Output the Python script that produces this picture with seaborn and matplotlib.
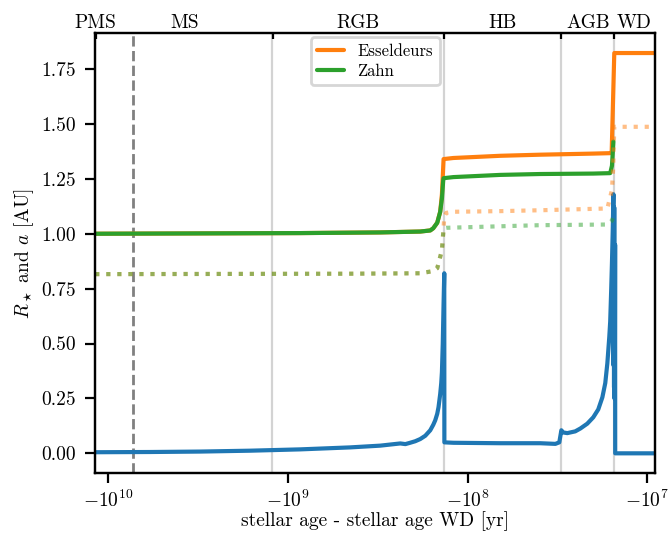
import numpy as np
import pandas as pd
import matplotlib
matplotlib.use("Agg")
import matplotlib.pyplot as plt
import matplotlib.ticker as mticker
import seaborn as sns

#---DATA---
# time relative to WD formation [yr] and stellar radius [AU]
t_star = [-1.18e10, -5.84e9, -3.08e9, -1.62e9, -8.54e8, -4.50e8, -3.06e8, -2.37e8,
          -2.22e8, -2.09e8, -1.957e8, -1.835e8, -1.72e8, -1.614e8, -1.553e8, -1.515e8,
          -1.476e8, -1.452e8, -1.421e8, -1.402e8, -1.39e8, -1.375e8, -1.361e8, -1.349e8,
          -1.347e8, -1.20e8, -6.58e7, -3.945e7, -3.25e7, -3.09e7, -3.01e7, -2.94e7,
          -2.79e7, -2.52e7, -2.36e7, -2.16e7, -2.00e7, -1.876e7, -1.78e7, -1.715e7,
          -1.67e7, -1.629e7, -1.61e7, -1.589e7, -1.574e7, -1.558e7, -1.545e7, -1.541e7,
          -1.537e7, -1.533e7, -1.529e7, -1.525e7, -1.521e7, -1.517e7, -1.512e7, -1.51e7,
          -9.0e6]
r_star = [0.005, 0.006, 0.008, 0.012, 0.018, 0.027, 0.035, 0.045,
          0.042, 0.048, 0.055, 0.065, 0.08, 0.105, 0.13, 0.15,
          0.18, 0.21, 0.27, 0.32, 0.37, 0.50, 0.68, 0.82,
          0.05, 0.048, 0.046, 0.046, 0.043, 0.05, 0.105, 0.095,
          0.092, 0.10, 0.113, 0.135, 0.164, 0.20, 0.255, 0.32,
          0.41, 0.53, 0.60, 0.75, 0.87, 1.02, 1.18, 0.40,
          0.98, 0.30, 1.12, 0.25, 0.80, 0.35, 0.95, 0.0,
          0.0]

# orbital separation, Esseldeurs prescription
t_ess = [-1.18e10, -8.54e8, -3.06e8, -1.835e8, -1.614e8, -1.553e8, -1.476e8, -1.421e8,
         -1.39e8, -1.368e8, -1.361e8, -1.20e8, -6.58e7, -3.945e7, -2.00e7, -1.61e7,
         -1.58e7, -1.528e7, -9.0e6]
a_ess = [1.0, 1.003, 1.006, 1.01, 1.015, 1.025, 1.05, 1.10,
         1.18, 1.30, 1.340, 1.345, 1.355, 1.360, 1.365, 1.367,
         1.37, 1.823, 1.823]

# orbital separation, Zahn prescription
t_zahn = [-1.18e10, -8.54e8, -3.06e8, -1.835e8, -1.614e8, -1.553e8, -1.476e8, -1.421e8,
          -1.39e8, -1.368e8, -1.361e8, -1.20e8, -6.58e7, -3.945e7, -2.00e7, -1.61e7,
          -1.574e7, -1.545e7]
a_zahn = [1.0, 1.003, 1.006, 1.01, 1.015, 1.025, 1.05, 1.10,
          1.16, 1.24, 1.253, 1.258, 1.268, 1.272, 1.274, 1.276,
          1.31, 1.42]

# dotted companions
t_ess2 = [-1.18e10, -4.50e8, -1.835e8, -1.553e8, -1.476e8, -1.39e8, -1.361e8, -1.349e8,
          -1.315e8, -1.218e8, -6.58e7, -3.945e7, -1.67e7, -1.574e7, -1.55e7, -1.528e7,
          -9.0e6]
a_ess2 = [0.816, 0.818, 0.82, 0.83, 0.843, 0.925, 1.025, 1.077,
          1.095, 1.10, 1.103, 1.107, 1.115, 1.20, 1.30, 1.487,
          1.487]

t_zahn2 = [-1.18e10, -4.50e8, -1.835e8, -1.553e8, -1.476e8, -1.39e8, -1.361e8, -1.315e8,
           -6.58e7, -3.945e7, -1.67e7, -1.574e7, -1.545e7]
a_zahn2 = [0.816, 0.818, 0.82, 0.83, 0.843, 0.925, 1.025, 1.027,
           1.034, 1.039, 1.042, 1.06, 1.08]

# evolutionary phases
phase_names = ["PMS", "MS", "RGB", "HB", "AGB", "WD"]
phase_edges = [-1.20e10, -1.17e10, -1.22e9, -1.35e8, -3.01e7, -1.53e7, -9.3e6]
t_start = -7.26e9

#---STYLE---
sns.set_style("ticks")
plt.rcParams["font.family"] = "serif"
plt.rcParams["font.serif"] = ["cmr10"]
plt.rcParams["mathtext.fontset"] = "cm"
plt.rcParams["axes.formatter.use_mathtext"] = True
plt.rcParams["font.size"] = 7
for k in ["axes.edgecolor", "xtick.color", "ytick.color", "text.color", "axes.labelcolor"]:
    plt.rcParams[k] = "black"

fig, ax = plt.subplots(figsize=(3.35, 2.665), dpi=200)
fig.subplots_adjust(left=0.142, right=0.978, top=0.938, bottom=0.112)

#phase boundaries
for edge in phase_edges[2:-1]:
    ax.axvline(edge, color="lightgray", lw=0.8, zorder=0)
ax.axvline(t_start, color="gray", ls="--", lw=1.0, zorder=0)

lw = 1.5
sns.lineplot(x=t_star, y=r_star, ax=ax, color="tab:blue", lw=lw, sort=False, estimator=None)
sns.lineplot(x=t_ess, y=a_ess, ax=ax, color="tab:orange", lw=lw, sort=False, estimator=None, label="Esseldeurs")
sns.lineplot(x=t_zahn, y=a_zahn, ax=ax, color="tab:green", lw=lw, sort=False, estimator=None, label="Zahn")
sns.lineplot(x=t_ess2, y=a_ess2, ax=ax, color="tab:orange", lw=lw, ls=":", alpha=0.5, sort=False, estimator=None)
sns.lineplot(x=t_zahn2, y=a_zahn2, ax=ax, color="tab:green", lw=lw, ls=":", alpha=0.5, sort=False, estimator=None)

ax.set_xscale("symlog", linthresh=1e5)
ax.set_xlim(-1.181e10, -9.04e6)
ax.set_xticks([-1e10, -1e9, -1e8, -1e7])
ax.xaxis.set_minor_locator(mticker.NullLocator())
ax.tick_params(axis="x", pad=2.5)
ax.set_ylim(-0.091, 1.914)
ax.set_yticks([0, 0.25, 0.5, 0.75, 1.0, 1.25, 1.5, 1.75])
ax.yaxis.set_major_formatter(mticker.FormatStrFormatter("%.2f"))

ax.set_xlabel("stellar age - stellar age WD [yr]", labelpad=0)
ax.set_ylabel(r"$R_\star$ and $a$ [AU]", labelpad=2)

handles, labels = ax.get_legend_handles_labels()
ax.legend(handles[:2], labels[:2], loc="upper center", fontsize=6,
          handlelength=1.6, labelspacing=0.25, borderaxespad=0.25)

#top axis with the phase names
ax2 = ax.twiny()
ax2.set_xscale("symlog", linthresh=1e5)
ax2.set_xlim(ax.get_xlim())
ax2.set_xticks(phase_edges[1:-1], labels=[""] * (len(phase_edges) - 2))
centers = [-np.sqrt(phase_edges[i] * phase_edges[i + 1]) for i in range(len(phase_names))]
ax2.set_xticks(centers, labels=phase_names, minor=True)
ax2.tick_params(which="major", direction="in", length=2)
ax2.tick_params(which="minor", length=0, pad=0.2)

fig.savefig("out.png", dpi=200)
